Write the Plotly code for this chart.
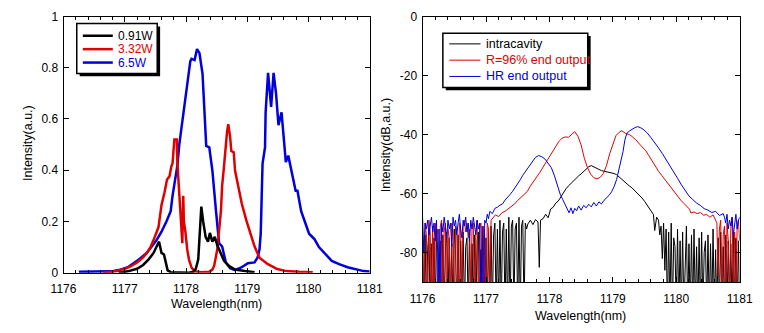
import numpy as np
import plotly.graph_objects as go

W, H = 764, 333
FONT = "Liberation Sans, Arial, sans-serif"
RED = "#e00000"
BLUE = "#0000dd"

# ---------------- Left panel: linear spectra ----------------
wl_091 = [1176.90, 1177.05, 1177.20, 1177.30, 1177.39, 1177.47, 1177.52, 1177.56, 1177.60, 1177.64,
          1177.67, 1177.70, 1177.75, 1177.90, 1178.05, 1178.12, 1178.16, 1178.20, 1178.22, 1178.25,
          1178.28, 1178.32, 1178.36, 1178.39, 1178.43, 1178.47, 1178.51, 1178.57, 1178.62, 1178.70,
          1178.80, 1178.96, 1179.12]
int_091 = [0.0, 0.005, 0.015, 0.03, 0.052, 0.077, 0.102, 0.121, 0.077, 0.071,
           0.040, 0.009, 0.002, 0.0, 0.0, 0.004, 0.015, 0.052, 0.152, 0.258,
           0.20, 0.14, 0.121, 0.155, 0.121, 0.14, 0.108, 0.077, 0.046, 0.027,
           0.012, 0.006, 0.002]

wl_332 = [1176.65, 1176.85, 1177.00, 1177.10, 1177.20, 1177.30, 1177.36, 1177.42, 1177.47, 1177.52,
          1177.55, 1177.60, 1177.63, 1177.65, 1177.69, 1177.73, 1177.76, 1177.78, 1177.81, 1177.85,
          1177.86, 1177.89, 1177.92, 1177.94, 1177.955, 1177.965, 1177.99, 1178.02, 1178.05, 1178.09,
          1178.14, 1178.25, 1178.38, 1178.43, 1178.46, 1178.51, 1178.57, 1178.59, 1178.62, 1178.65,
          1178.67, 1178.69, 1178.72, 1178.74, 1178.78, 1178.80, 1178.85, 1178.91, 1178.99, 1179.07,
          1179.12, 1179.20, 1179.33, 1179.49, 1179.64, 1179.85, 1180.07]
int_332 = [0.0, 0.005, 0.015, 0.025, 0.04, 0.06, 0.077, 0.10, 0.127, 0.16,
           0.177, 0.264, 0.29, 0.314, 0.364, 0.376, 0.414, 0.426, 0.52, 0.52,
           0.426, 0.30, 0.19, 0.115, 0.30, 0.20, 0.16, 0.09, 0.05, 0.02,
           0.005, 0.002, 0.003, 0.012, 0.027, 0.09, 0.24, 0.34, 0.414, 0.514,
           0.55, 0.58, 0.53, 0.475, 0.47, 0.40, 0.34, 0.27, 0.20, 0.14,
           0.102, 0.058, 0.034, 0.014, 0.006, 0.003, 0.002]

wl_65 = [1176.25, 1176.50, 1176.78, 1176.90, 1177.05, 1177.20, 1177.36, 1177.52, 1177.60, 1177.68,
         1177.75, 1177.78, 1177.82, 1177.86, 1177.89, 1177.93, 1177.96, 1178.00, 1178.04, 1178.07,
         1178.09, 1178.14, 1178.18, 1178.22, 1178.27, 1178.30, 1178.33, 1178.38, 1178.43, 1178.49,
         1178.54, 1178.59, 1178.65, 1178.72, 1178.80, 1178.91, 1179.01, 1179.12, 1179.17, 1179.20,
         1179.22, 1179.25, 1179.27, 1179.29, 1179.30, 1179.34, 1179.39, 1179.43, 1179.47, 1179.51,
         1179.56, 1179.60, 1179.63, 1179.67, 1179.72, 1179.79, 1179.82, 1179.88, 1180.01, 1180.10,
         1180.17, 1180.25, 1180.38, 1180.50, 1180.64, 1180.90, 1181.00]
int_65 = [0.003, 0.004, 0.005, 0.01, 0.021, 0.046, 0.077, 0.127, 0.16, 0.20,
          0.24, 0.30, 0.36, 0.42, 0.50, 0.57, 0.63, 0.71, 0.77, 0.825,
          0.835, 0.83, 0.873, 0.857, 0.776, 0.61, 0.495, 0.489, 0.40, 0.24,
          0.115, 0.102, 0.04, 0.017, 0.010, 0.021, 0.037, 0.04, 0.06, 0.09,
          0.152, 0.426, 0.46, 0.489, 0.626, 0.78, 0.647, 0.78, 0.70, 0.576,
          0.626, 0.50, 0.432, 0.457, 0.40, 0.32, 0.32, 0.24, 0.152, 0.13,
          0.10, 0.08, 0.046, 0.033, 0.021, 0.006, 0.004]

# ---------------- Right panel: log spectra (dB) ----------------
NOISE_STEP = 0.02

# intracavity (black)
ic_noise_left_start = 1176.00
ic_noise_left_db = [-76, -100, -74, -100, -79, -73, -100, -77, -100, -75,
                    -100, -72, -80, -100, -76, -100, -74, -100, -78, -73,
                    -100, -75, -100, -77, -100, -72, -79, -100, -74, -100,
                    -76, -100, -73, -100, -78, -75, -100, -72, -100, -77,
                    -100, -74, -100, -76, -73, -100, -79, -100, -72, -100,
                    -75, -100, -73, -100, -71, -100, -74, -70, -100, -72,
                    -100, -69, -100, -73, -70, -100, -72, -100, -68, -100,
                    -71, -69, -100, -72, -70, -100, -68, -100, -71, -69,
                    -100, -70, -72]
ic_wl_main = [1177.66, 1177.70, 1177.74, 1177.78, 1177.82, 1177.84, 1177.86, 1177.90, 1177.94, 1177.98,
              1178.02, 1178.06, 1178.10, 1178.14, 1178.18, 1178.22, 1178.26, 1178.30, 1178.34, 1178.38,
              1178.42, 1178.46, 1178.50, 1178.54, 1178.58, 1178.62, 1178.66, 1178.70, 1178.74, 1178.78,
              1178.82, 1178.86, 1178.90, 1178.94, 1178.98, 1179.02, 1179.06, 1179.10, 1179.14, 1179.18,
              1179.22, 1179.26, 1179.30, 1179.34, 1179.38, 1179.42, 1179.46, 1179.50, 1179.54, 1179.58,
              1179.62, 1179.64, 1179.66, 1179.69]
ic_db_main = [-70.3, -69.0, -70.5, -68.8, -69.6, -85.0, -69.0, -68.5, -67.0, -68.2,
              -65.2, -64.6, -63.2, -62.5, -61.0, -59.8, -58.4, -57.4, -56.5, -55.5,
              -54.6, -54.0, -53.3, -52.4, -51.6, -50.9, -50.5, -51.0, -51.5, -51.8,
              -52.2, -52.4, -52.5, -52.6, -52.9, -53.2, -53.6, -54.4, -55.2, -55.9,
              -56.6, -57.4, -58.0, -58.8, -59.6, -60.4, -61.5, -62.6, -63.8, -65.4,
              -66.6, -67.1, -72.5, -68.0]
ic_noise_right_start = 1179.72
ic_noise_right_db = [-69, -74, -71, -82, -70, -86, -72,
                     -100, -73, -100, -70, -100, -75, -78, -100, -72, -100,
                     -76, -100, -73, -100, -80, -71, -100, -77, -100, -74,
                     -100, -72, -100, -78, -100, -75, -100, -73, -100, -80,
                     -76, -100, -74, -100, -77, -100, -72, -100, -79, -100,
                     -75, -100, -73, -100, -78, -100, -74, -100, -76, -100,
                     -77, -100, -73, -100, -75, -100, -76, -100]

# R=96% end output (red)
oc_noise_left_start = 1176.00
oc_noise_left_db = [-72, -100, -70, -74, -100, -69, -73, -95, -71, -100,
                    -70, -76, -72, -100, -71, -69, -95, -73, -70, -100,
                    -72, -75, -100, -70, -73, -100, -71, -74, -98, -70,
                    -72, -100, -71, -69, -73, -70, -75, -72, -100, -71,
                    -70, -100, -73, -69, -100, -72, -70, -100, -71, -74,
                    -100, -70, -72, -95, -69]
oc_wl_main = [1177.10, 1177.15, 1177.20, 1177.25, 1177.30, 1177.35, 1177.40, 1177.45, 1177.50, 1177.55,
              1177.60, 1177.65, 1177.70, 1177.75, 1177.80, 1177.85, 1177.90, 1177.95, 1178.00, 1178.05,
              1178.10, 1178.15, 1178.20, 1178.25, 1178.30, 1178.35, 1178.40, 1178.45, 1178.50, 1178.55,
              1178.60, 1178.65, 1178.70, 1178.75, 1178.80, 1178.85, 1178.90, 1178.95, 1179.00, 1179.05,
              1179.10, 1179.14, 1179.20, 1179.26, 1179.30, 1179.36, 1179.42, 1179.47, 1179.52, 1179.57,
              1179.62, 1179.67, 1179.72, 1179.77, 1179.82, 1179.87, 1179.92, 1179.97, 1180.02, 1180.07,
              1180.12, 1180.17, 1180.21, 1180.23, 1180.28, 1180.33, 1180.38, 1180.43, 1180.48, 1180.53,
              1180.58, 1180.62]
oc_db_main = [-68.5, -67.2, -67.8, -66.5, -66.0, -65.2, -64.6, -63.5, -62.3, -61.4,
              -60.2, -59.3, -57.4, -56.0, -54.6, -52.8, -51.0, -49.3, -47.6, -45.8,
              -43.9, -42.3, -41.2, -40.8, -40.9, -40.0, -39.0, -40.6, -43.5, -48.0,
              -51.2, -53.4, -54.6, -55.0, -54.5, -53.2, -50.5, -46.5, -43.0, -40.3,
              -39.2, -38.7, -39.6, -40.0, -40.6, -41.7, -43.2, -44.4, -45.5, -47.2,
              -49.0, -50.9, -52.4, -53.8, -55.2, -56.8, -58.0, -59.5, -61.0, -62.2,
              -63.3, -64.6, -65.3, -66.6, -66.2, -66.8, -66.4, -67.3, -67.1, -68.0,
              -67.2, -69.0]
oc_noise_right_start = 1180.64
oc_noise_right_db = [-70, -88, -72, -69, -95, -74, -71, -100, -70, -76,
                     -95, -72, -68, -90, -73, -100, -71, -69, -76]

# HR end output (blue)
hr_noise_left_start = 1176.00
hr_noise_left_db = [-68, -80, -70, -72, -69, -74, -71, -68, -73, -70,
                    -76, -69, -100, -72, -100, -70, -73, -68, -71, -75,
                    -69, -72, -70, -78, -68, -71, -69, -74, -70, -67,
                    -72, -75, -69, -71, -68, -73, -70, -76, -69, -72,
                    -68, -71, -74, -69, -72, -70, -100, -71, -100, -69,
                    -70, -67, -68.5]
hr_wl_main = [1177.06, 1177.10, 1177.14, 1177.18, 1177.22, 1177.26, 1177.30, 1177.34, 1177.38, 1177.42,
              1177.46, 1177.50, 1177.54, 1177.58, 1177.62, 1177.66, 1177.70, 1177.74, 1177.78, 1177.83,
              1177.88, 1177.93, 1177.98, 1178.03, 1178.08, 1178.13, 1178.17, 1178.21, 1178.25, 1178.28,
              1178.31, 1178.34, 1178.37, 1178.40, 1178.43, 1178.46, 1178.50, 1178.54, 1178.58, 1178.62,
              1178.66, 1178.70, 1178.74, 1178.78, 1178.82, 1178.86, 1178.90, 1178.94, 1178.98, 1179.02,
              1179.06, 1179.10, 1179.13, 1179.16, 1179.19, 1179.22, 1179.26, 1179.30, 1179.35, 1179.39,
              1179.44, 1179.49, 1179.54, 1179.60, 1179.66, 1179.72, 1179.78, 1179.84, 1179.90, 1179.96,
              1180.02, 1180.08, 1180.14, 1180.20, 1180.26, 1180.32, 1180.38, 1180.44, 1180.50, 1180.56,
              1180.62, 1180.68, 1180.74]
hr_db_main = [-66.0, -66.8, -65.0, -64.6, -63.9, -63.5, -62.2, -61.4, -60.3, -59.2,
              -58.0, -56.4, -55.3, -53.8, -52.6, -51.2, -49.8, -48.7, -47.7, -47.1,
              -47.5, -48.3, -49.6, -51.2, -54.0, -57.6, -60.2, -62.0, -64.0, -65.2,
              -66.5, -64.8, -66.8, -65.0, -65.8, -64.2, -65.6, -64.0, -64.8, -63.6,
              -64.5, -63.0, -64.2, -62.8, -63.5, -62.3, -61.6, -60.6, -59.4, -57.6,
              -55.2, -51.5, -48.7, -45.8, -41.8, -39.6, -38.8, -38.2, -37.6, -37.3,
              -37.7, -38.4, -39.4, -41.0, -42.6, -44.5, -46.4, -48.4, -50.5, -52.6,
              -54.8, -57.0, -59.0, -60.8, -62.0, -63.2, -64.0, -65.1, -65.6, -66.4,
              -66.0, -67.4, -66.8]
hr_noise_right_start = 1180.76
hr_noise_right_db = [-68, -70, -67, -72, -69, -71, -68, -74, -70, -67, -72, -69, -68]

x_ticks = [1176, 1177, 1178, 1179, 1180, 1181]
y2_ticks = [-80, -60, -40, -20, 0]
y2_ticktext = ["-80", "-60", "-40", "-20", "0"]


def grid(start, vals):
    return list(start + NOISE_STEP * np.arange(len(vals)))


def spectrum(nl_start, nl, wl, db, nr_start, nr):
    return grid(nl_start, nl) + list(wl) + grid(nr_start, nr), list(nl) + list(db) + list(nr)


fig = go.Figure()

# left panel traces
fig.add_trace(go.Scatter(x=wl_65, y=int_65, mode="lines", line=dict(color=BLUE, width=2.5),
                         xaxis="x", yaxis="y", showlegend=False))
fig.add_trace(go.Scatter(x=wl_332, y=int_332, mode="lines", line=dict(color=RED, width=2.5),
                         xaxis="x", yaxis="y", showlegend=False))
fig.add_trace(go.Scatter(x=wl_091, y=int_091, mode="lines", line=dict(color="black", width=2.5),
                         xaxis="x", yaxis="y", showlegend=False))

# right panel traces
for (args, col) in [((ic_noise_left_start, ic_noise_left_db, ic_wl_main, ic_db_main,
                      ic_noise_right_start, ic_noise_right_db), "black"),
                    ((oc_noise_left_start, oc_noise_left_db, oc_wl_main, oc_db_main,
                      oc_noise_right_start, oc_noise_right_db), RED),
                    ((hr_noise_left_start, hr_noise_left_db, hr_wl_main, hr_db_main,
                      hr_noise_right_start, hr_noise_right_db), BLUE)]:
    xs, ys = spectrum(*args)
    fig.add_trace(go.Scatter(x=xs, y=ys, mode="lines", line=dict(color=col, width=1),
                             xaxis="x2", yaxis="y2", showlegend=False))


def px(x):
    return x / W


def py(y):
    return 1 - y / H


axis_common = dict(showline=True, linecolor="black", linewidth=1, mirror="ticks",
                   ticks="inside", ticklen=5, tickwidth=1, tickcolor="black",
                   showgrid=False, zeroline=False,
                   tickfont=dict(family=FONT, size=12, color="black"))
minor_x = dict(ticks="inside", ticklen=3, tickwidth=1, tickcolor="black", dtick=0.2, showgrid=False)

fig.update_layout(
    width=W, height=H,
    margin=dict(l=0, r=0, t=0, b=0),
    paper_bgcolor="white", plot_bgcolor="white",
    showlegend=False,
    xaxis=dict(domain=[px(52.3), px(369.3)], range=[1176, 1181], tickvals=x_ticks,
               minor=minor_x, anchor="y", ticklabelstandoff=5, **axis_common),
    yaxis=dict(domain=[py(277.3), py(10)], range=[0, 1], dtick=0.2, anchor="x",
               ticklabelstandoff=2, **axis_common),
    xaxis2=dict(domain=[px(424), px(752.3)], range=[1176, 1181], tickvals=x_ticks,
                minor=minor_x, anchor="y2", ticklabelstandoff=5, **axis_common),
    yaxis2=dict(domain=[py(287.2), py(10)], range=[-90, 0], tickvals=y2_ticks, ticktext=y2_ticktext,
                anchor="x2", ticklabelstandoff=2, **axis_common),
)

shapes = []
annotations = []

# axis titles
title_font = dict(family=FONT, size=12.5, color="black")
annotations += [
    dict(text="Wavelength(nm)", x=px(211), y=py(310.5), xref="paper", yref="paper",
         xanchor="center", yanchor="middle", showarrow=False, font=title_font),
    dict(text="Wavelength(nm)", x=px(588), y=py(323), xref="paper", yref="paper",
         xanchor="center", yanchor="middle", showarrow=False, font=title_font),
    dict(text="Intensity(a.u.)", x=px(15.5), y=py(142), xref="paper", yref="paper", textangle=-90,
         xanchor="center", yanchor="middle", showarrow=False, font=title_font),
    dict(text="Intensity(dB,a.u.)", x=px(386.5), y=py(144), xref="paper", yref="paper", textangle=-90,
         xanchor="center", yanchor="middle", showarrow=False, font=title_font),
]

# legends drawn as boxes with drop shadow
legends = [
    dict(box=(66, 17.3, 149.3, 69.3), lw=2.5, line_x=(72.3, 103.3), text_x=106.7, size=12,
         items=[("0.91W", "black", 30), ("3.32W", RED, 44), ("6.5W", BLUE, 58)]),
    dict(box=(445, 27.3, 595, 84), lw=1, line_x=(451.7, 484), text_x=487.7, size=12.5,
         items=[("intracavity", "black", 38.5), ("R=96% end output", RED, 55.5),
                ("HR end output", BLUE, 72.5)]),
]
for lg in legends:
    x0, y0, x1, y1 = lg["box"]
    shapes.append(dict(type="rect", xref="paper", yref="paper", x0=px(x0 + 3), x1=px(x1 + 3),
                       y0=py(y1 + 3), y1=py(y0 + 3), fillcolor="black", line=dict(width=0),
                       layer="above"))
    shapes.append(dict(type="rect", xref="paper", yref="paper", x0=px(x0), x1=px(x1),
                       y0=py(y1), y1=py(y0), fillcolor="white", line=dict(color="black", width=1.5),
                       layer="above"))
    for label, col, yy in lg["items"]:
        shapes.append(dict(type="line", xref="paper", yref="paper", x0=px(lg["line_x"][0]),
                           x1=px(lg["line_x"][1]), y0=py(yy), y1=py(yy),
                           line=dict(color=col, width=lg["lw"]), layer="above"))
        annotations.append(dict(text=label, x=px(lg["text_x"]), y=py(yy), xref="paper", yref="paper",
                                xanchor="left", yanchor="middle", showarrow=False,
                                font=dict(family=FONT, size=lg["size"], color=col)))

fig.update_layout(shapes=shapes, annotations=annotations)
fig.write_html("out.html")
